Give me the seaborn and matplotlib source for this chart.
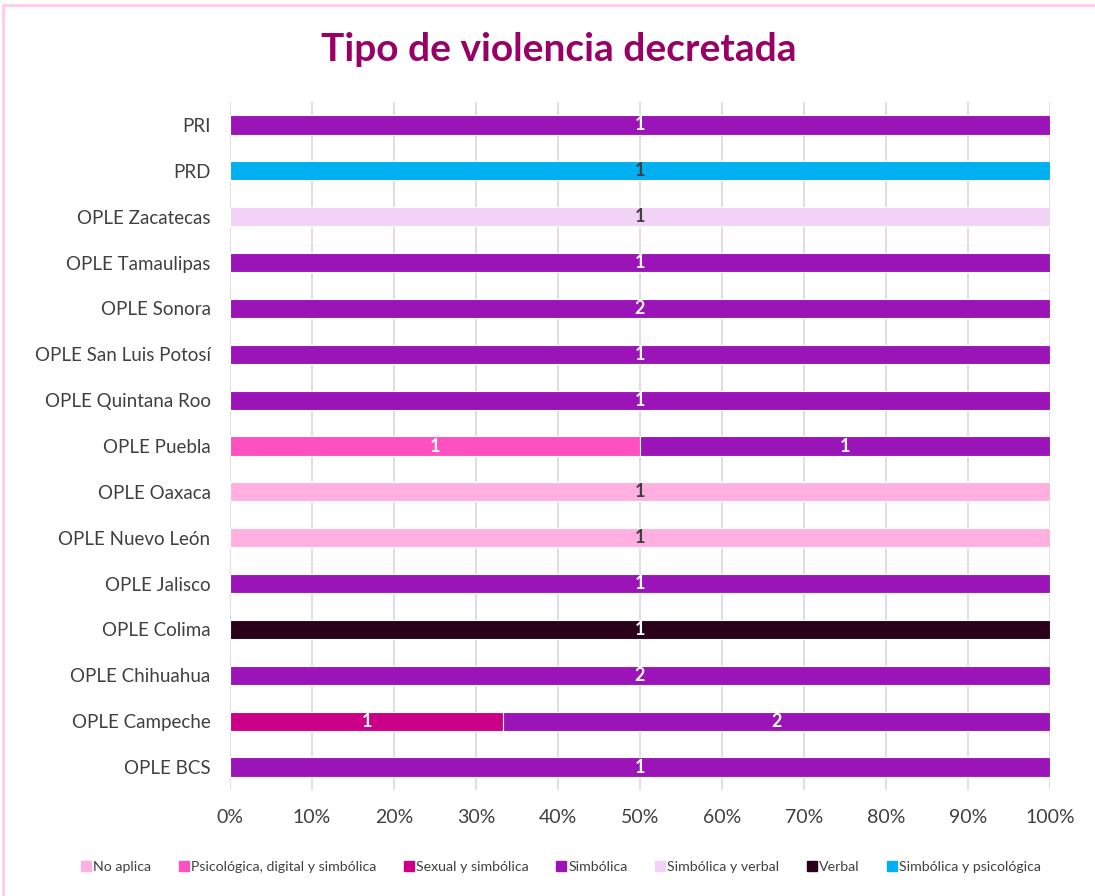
import matplotlib
matplotlib.use('Agg')
import matplotlib.pyplot as plt
from matplotlib.lines import Line2D
from matplotlib.patches import Rectangle
import numpy as np
import pandas as pd
import seaborn as sns

# Datos: número de casos por entidad y tipo de violencia
entidades = ["PRI", "PRD", "OPLE Zacatecas", "OPLE Tamaulipas", "OPLE Sonora",
             "OPLE San Luis Potosí", "OPLE Quintana Roo", "OPLE Puebla",
             "OPLE Oaxaca", "OPLE Nuevo León", "OPLE Jalisco", "OPLE Colima",
             "OPLE Chihuahua", "OPLE Campeche", "OPLE BCS"]

tipos = ["No aplica", "Psicológica, digital y simbólica", "Sexual y simbólica",
         "Simbólica", "Simbólica y verbal", "Verbal", "Simbólica y psicológica"]

no_aplica = [0, 0, 0, 0, 0, 0, 0, 0, 1, 1, 0, 0, 0, 0, 0]
psicologica = [0, 0, 0, 0, 0, 0, 0, 1, 0, 0, 0, 0, 0, 0, 0]
sexual = [0, 0, 0, 0, 0, 0, 0, 0, 0, 0, 0, 0, 0, 1, 0]
simbolica = [1, 0, 0, 1, 2, 1, 1, 1, 0, 0, 1, 0, 2, 2, 1]
simb_verbal = [0, 0, 1, 0, 0, 0, 0, 0, 0, 0, 0, 0, 0, 0, 0]
verbal = [0, 0, 0, 0, 0, 0, 0, 0, 0, 0, 0, 1, 0, 0, 0]
simb_psico = [0, 1, 0, 0, 0, 0, 0, 0, 0, 0, 0, 0, 0, 0, 0]

colores = ["#FFB0E0", "#FF50C0", "#CC0088", "#9B14B7", "#F2D2F6", "#2A001A", "#00B0F0"]
color_etiqueta = ["#404040", "white", "white", "white", "#404040", "white", "#404040"]

sns.set_theme(style="white")
plt.rcParams['font.family'] = ['Lato', 'DejaVu Sans']

conteos = pd.DataFrame(
    np.array([no_aplica, psicologica, sexual, simbolica, simb_verbal, verbal, simb_psico]).T,
    index=entidades, columns=tipos)
pct = conteos.div(conteos.sum(axis=1), axis=0) * 100
acum = pct.cumsum(axis=1)

fig = plt.figure(figsize=(10.95, 8.96), dpi=100)
ax = fig.add_axes([230 / 1095, 1 - 790 / 896, 820 / 1095, 688 / 896])

# Barras apiladas: se dibujan las sumas acumuladas de derecha a izquierda
for i in range(len(tipos) - 1, -1, -1):
    t = tipos[i]
    df = pd.DataFrame({"entidad": entidades,
                       "valor": acum[t].where(conteos[t] > 0)}).dropna()
    sns.barplot(data=df, x="valor", y="entidad", order=entidades, orient="h",
                color=colores[i], saturation=1, width=0.42, errorbar=None,
                edgecolor="white", linewidth=0.8, ax=ax)

# Etiquetas de conteo
for i, t in enumerate(tipos):
    for j, ent in enumerate(entidades):
        n = conteos.loc[ent, t]
        if n > 0:
            xc = acum.loc[ent, t] - pct.loc[ent, t] / 2
            ax.text(xc, j, str(n), ha="center", va="center", fontsize=13,
                    fontweight="bold", color=color_etiqueta[i])

ax.set_xlim(0, 100)
ax.set_ylim(len(entidades) - 0.5, -0.5)
ax.set_xticks(np.arange(0, 101, 10))
ax.set_xticklabels([f"{v}%" for v in range(0, 101, 10)])
ax.xaxis.grid(True, color="#D9D9D9", linewidth=1.2)
ax.set_axisbelow(True)
ax.set_xlabel("")
ax.set_ylabel("")
ax.tick_params(axis="y", length=0, labelsize=13.5, colors="#404040", pad=14)
ax.tick_params(axis="x", length=0, labelsize=14, colors="#404040", pad=14)
for s in ax.spines.values():
    s.set_visible(False)

fig.text(0.510, 0.945, "Tipo de violencia decretada", ha="center", va="center",
         fontsize=28, fontweight="bold", color="#990066")

handles = [Line2D([0], [0], marker="s", linestyle="", markersize=7.5,
                  markerfacecolor=c, markeredgecolor=c) for c in colores]
fig.legend(handles, tipos, loc="center", bbox_to_anchor=(0.512, 0.032), ncol=7,
           frameon=False, fontsize=10.2, handletextpad=0.1, columnspacing=1.9,
           labelcolor="#404040", handlelength=0.8)

fig.patches.append(Rectangle((3 / 1095, -0.02), 1.1, 1 - 5 / 896 + 0.02,
                             transform=fig.transFigure, fill=False,
                             edgecolor="#FFCCEE", linewidth=2))

fig.savefig("out.png", dpi=100, facecolor="white")
